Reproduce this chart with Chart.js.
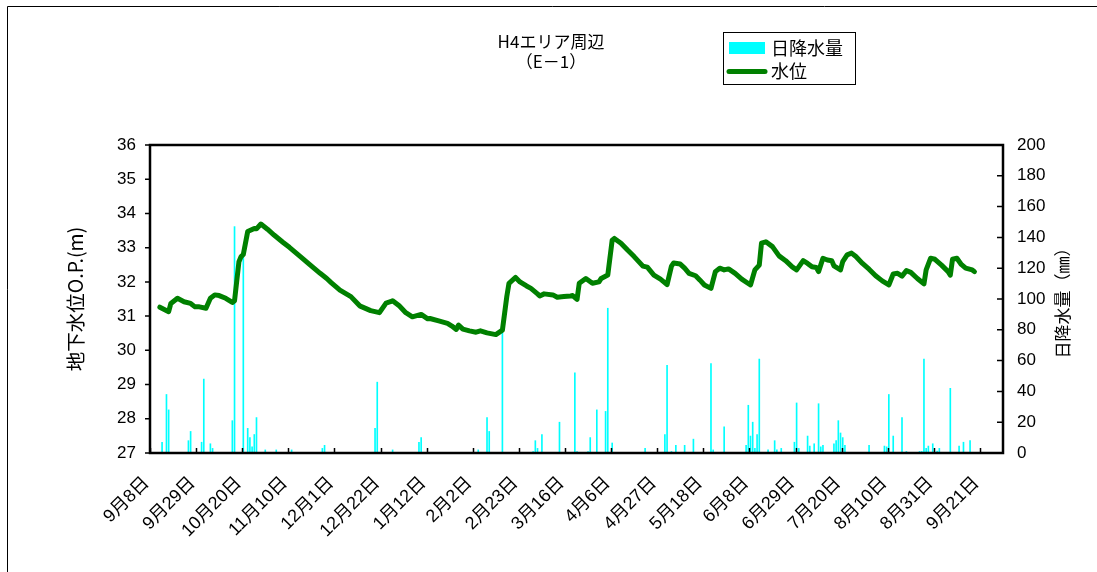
<!DOCTYPE html>
<html>
<head>
<meta charset="utf-8">
<script src="https://cdn.jsdelivr.net/npm/chart.js@4.4.0/dist/chart.umd.min.js"></script>
<style>
  html, body { margin: 0; padding: 0; background: #fff; }
  #wrap { position: relative; width: 1097px; height: 572px; }
</style>
</head>
<body>
<div id="wrap"><canvas id="chart" width="1097" height="572"></canvas></div>
<script>
// x axis: day number counted from 9月8日, one tick label every 21 days
const tickLabels = ["9月8日", "9月29日", "10月20日", "11月10日", "12月1日", "12月22日", "1月12日",
    "2月2日", "2月23日", "3月16日", "4月6日", "4月27日", "5月18日", "6月8日", "6月29日",
    "7月20日", "8月10日", "8月31日", "9月21日"];
const tickStep = 21;
const lastDay = 388.5;

// daily rainfall (mm), right axis
const rainDays = [5, 7, 8, 17, 18, 23, 24, 27, 28, 37, 38, 42, 44, 45, 46, 47, 48, 52, 57, 64, 78, 79,
    102, 103, 110, 122, 123, 149, 153, 154, 160, 174, 175, 176, 178, 186, 193,
    194, 199, 200, 203, 207, 208, 210, 225, 234, 235, 237, 239, 243, 247, 255, 256, 261,
    271, 272, 273, 274, 275, 276, 277, 281, 284, 285, 287,
    293, 294, 295, 299, 300, 302, 304, 305, 306, 311, 312, 313, 314, 315, 316, 327,
    334, 335, 336, 338, 342, 344, 350, 351, 352, 353, 354, 356, 358, 359, 364, 368, 370, 373];
const rainValues = [7, 38, 28, 8, 14, 7, 48, 6, 3, 21, 147, 127, 16, 10, 4, 12, 23, 2, 2, 2, 3, 5,
    16, 46, 2, 7, 10, 2, 23, 14, 78, 1, 8, 3, 12, 20, 52,
    1, 1, 10, 28, 27, 94, 6.5, 3, 12, 57, 1, 5, 5, 9, 58, 2, 17,
    5, 31, 11, 20, 3, 12, 61, 2, 8, 2, 3,
    7, 32.5, 3, 11, 4.5, 6, 32, 4, 5, 6, 8, 21, 13, 10, 5, 5,
    4.5, 4, 38, 11, 23, 1, 1, 1, 61, 3, 4.5, 6, 1.3, 3, 42, 4.5, 7, 8];

// groundwater level O.P.(m), left axis
const levelDays = [4, 8, 9, 12, 15, 18, 20, 22, 25, 27, 29, 31, 34, 37, 38, 40, 41, 42, 44, 47, 48, 50,
    53, 56, 60, 63, 68, 72, 77, 80, 82, 86, 91, 95, 100, 104, 107, 109, 110, 113, 116, 119,
    123, 126, 127, 131, 135, 137, 139, 140, 142, 145, 148, 150, 153, 157, 160, 162, 163, 166,
    168, 171, 173, 176, 177, 179, 183, 185, 188, 191, 192, 194, 195, 198, 201, 204, 205, 208,
    210, 211, 214, 217, 220, 224, 226, 229, 232, 235, 237, 238, 241, 243, 245, 248, 250, 252,
    255, 257, 259, 261, 263, 266, 269, 273, 275, 277, 278, 280, 283, 286, 289, 292, 294, 297,
    299, 301, 303, 304, 306, 308, 310, 311, 314, 315, 317, 319, 321, 324, 327, 330, 333, 336,
    338, 340, 342, 344, 346, 349, 352, 353, 355, 357, 360, 363, 364, 365, 367, 369, 371, 374, 375];
const levelValues = [31.26, 31.13, 31.37, 31.52, 31.42, 31.37, 31.27, 31.27, 31.23, 31.52, 31.62, 31.6,
    31.52, 31.40, 31.45, 32.59, 32.74, 32.8, 33.47, 33.56, 33.55, 33.69,
    33.54, 33.37, 33.16, 33.01, 32.74, 32.52, 32.25, 32.1, 31.98, 31.76, 31.57, 31.3, 31.16, 31.1,
    31.38, 31.42, 31.45, 31.3, 31.1, 30.98,
    31.05, 30.92, 30.93, 30.86, 30.79, 30.71, 30.61, 30.74, 30.62, 30.57, 30.53, 30.57, 30.51, 30.46,
    30.59, 31.57, 31.96, 32.13,
    32.0, 31.88, 31.81, 31.65, 31.59, 31.65, 31.62, 31.55, 31.57, 31.59, 31.6, 31.49, 31.96, 32.1,
    31.96, 32.0, 32.1, 32.2,
    33.22, 33.27, 33.13, 32.93, 32.74, 32.46, 32.43, 32.2, 32.08, 31.92, 32.46, 32.55, 32.52, 32.4,
    32.25, 32.18, 32.05, 31.91,
    31.81, 32.3, 32.4, 32.35, 32.38, 32.25, 32.08, 31.91, 32.35, 32.49, 33.13, 33.17, 33.03, 32.76,
    32.62, 32.44, 32.35, 32.62,
    32.54, 32.44, 32.42, 32.3, 32.69, 32.64, 32.62, 32.47, 32.35, 32.59, 32.79, 32.84, 32.74, 32.54,
    32.37, 32.18, 32.03, 31.91,
    32.23, 32.25, 32.17, 32.33, 32.28, 32.1, 31.94, 32.35, 32.69, 32.66, 32.49, 32.3, 32.2, 32.66,
    32.69, 32.51, 32.4, 32.35, 32.3];

const NUM_FONT = "'Liberation Sans', 'Noto Sans CJK JP', sans-serif";
const JP_FONT = "'Noto Sans CJK JP', sans-serif";

// frame, tick marks, titles and legend drawn on top of the plot
const decorPlugin = {
    id: 'decor',
    afterDraw(chart) {
        const ctx = chart.ctx;
        const a = chart.chartArea;
        const sx = chart.scales.x, sy = chart.scales.y, sy1 = chart.scales.y1;
        ctx.save();

        // outer border of the sheet
        ctx.strokeStyle = '#000';
        ctx.lineWidth = 1;
        ctx.beginPath();
        ctx.moveTo(7.5, 572);
        ctx.lineTo(7.5, 6.5);
        ctx.lineTo(1097, 6.5);
        ctx.stroke();

        // tick marks
        ctx.lineWidth = 1.5;
        ctx.beginPath();
        sy.ticks.forEach(t => {
            const p = sy.getPixelForValue(t.value);
            ctx.moveTo(a.left - 5, p); ctx.lineTo(a.left, p);
        });
        sy1.ticks.forEach(t => {
            const p = sy1.getPixelForValue(t.value);
            ctx.moveTo(a.right - 6, p); ctx.lineTo(a.right, p);
        });
        sx.ticks.forEach(t => {
            const p = Math.round(sx.getPixelForValue(t.value)) + 0.5;
            ctx.moveTo(p, a.bottom - 5); ctx.lineTo(p, a.bottom);
        });
        ctx.stroke();

        // plot frame
        ctx.lineWidth = 2.5;
        ctx.strokeRect(a.left, a.top, a.right - a.left, a.bottom - a.top);

        ctx.fillStyle = '#000';
        ctx.textAlign = 'center';
        ctx.textBaseline = 'middle';

        // axis titles
        ctx.font = '19.5px ' + JP_FONT;
        ctx.save();
        ctx.translate(76, (a.top + a.bottom) / 2);
        ctx.rotate(-Math.PI / 2);
        ctx.fillText('地下水位O.P.(m)', 0, 0);
        ctx.restore();

        ctx.font = '17px ' + JP_FONT;
        ctx.save();
        ctx.translate(1063, (a.top + a.bottom) / 2);
        ctx.rotate(-Math.PI / 2);
        ctx.fillText('日降水量（㎜）', 0, 0);
        ctx.restore();

        // chart title
        ctx.font = '17px ' + JP_FONT;
        ctx.fillText('H4エリア周辺', 551, 42);
        ctx.fillText('（E－1）', 551, 62);

        // legend
        ctx.lineWidth = 1;
        ctx.strokeRect(723.5, 32.5, 132, 52);
        ctx.fillStyle = '#00FFFF';
        ctx.fillRect(729, 42, 36, 12);
        ctx.strokeStyle = '#008000';
        ctx.lineWidth = 5;
        ctx.lineCap = 'round';
        ctx.beginPath();
        ctx.moveTo(729, 71.5); ctx.lineTo(765, 71.5);
        ctx.stroke();
        ctx.fillStyle = '#000';
        ctx.textAlign = 'left';
        ctx.font = '18px ' + JP_FONT;
        ctx.fillText('日降水量', 771, 48);
        ctx.fillText('水位', 771, 71);

        ctx.restore();
    }
};

const ctx = document.getElementById('chart').getContext('2d');
const chart = new Chart(ctx, {
    data: {
        datasets: [{
            type: 'line',
            label: '水位',
            data: levelDays.map((d, i) => ({ x: d + 0.5, y: levelValues[i] })),
            yAxisID: 'y',
            borderColor: '#008000',
            borderWidth: 5,
            borderCapStyle: 'round',
            borderJoinStyle: 'round',
            pointRadius: 0,
            tension: 0,
            order: 1
        }, {
            type: 'bar',
            label: '日降水量',
            data: rainDays.map((d, i) => ({ x: d + 0.5, y: rainValues[i] })),
            yAxisID: 'y1',
            backgroundColor: '#00FFFF',
            barThickness: 1,
            order: 2
        }]
    },
    options: {
        responsive: false,
        animation: false,
        devicePixelRatio: 1,
        layout: { padding: { top: 145, left: 0, right: 0, bottom: 0 } },
        plugins: {
            legend: { display: false },
            title: { display: false },
            tooltip: { enabled: false }
        },
        scales: {
            x: {
                type: 'linear',
                offset: false,
                min: 0,
                max: lastDay,
                afterBuildTicks: scale => {
                    scale.ticks = tickLabels.map((_, i) => ({ value: i * tickStep }));
                },
                afterFit: scale => {
                    scale.height = 119;
                    scale.paddingLeft = 0;
                    scale.paddingRight = 0;
                },
                grid: { display: false, drawTicks: false, offset: false },
                border: { display: false },
                ticks: {
                    autoSkip: false,
                    minRotation: 45,
                    maxRotation: 45,
                    padding: 16,
                    color: '#000',
                    font: { family: NUM_FONT, size: 18 },
                    // trailing space nudges the rotated label back along its line
                    callback: (v, i) => tickLabels[i] + ' '
                }
            },
            y: {
                position: 'left',
                min: 27,
                max: 36,
                afterFit: scale => { scale.width = 150; },
                grid: { display: false, drawTicks: false },
                border: { display: false },
                ticks: { stepSize: 1, padding: 14, color: '#000', font: { family: NUM_FONT, size: 17 } }
            },
            y1: {
                position: 'right',
                min: 0,
                max: 200,
                afterFit: scale => { scale.width = 94; },
                grid: { display: false, drawTicks: false },
                border: { display: false },
                ticks: { stepSize: 20, padding: 14, color: '#000', font: { family: NUM_FONT, size: 17 } }
            }
        }
    },
    plugins: [decorPlugin]
});
</script>
</body>
</html>
